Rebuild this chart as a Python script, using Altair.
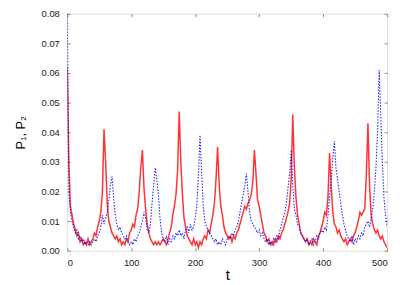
import altair as alt
import pandas as pd

# time grid (step 2.5) and series values in units of 1e-3
t_step = 2.5
p1_milli = [
    62, 30, 15, 12, 9, 7, 5, 6, 3, 4, 2, 3, 2, 4, 2, 3, 4, 6, 5, 8,
    10, 13, 20, 41, 30, 16, 10, 8, 6, 5, 4, 5, 3, 4, 2, 3, 2, 4, 3, 6,
    7, 9, 8, 12, 14, 20, 28, 34, 21, 14, 9, 6, 4, 3, 2, 3, 2, 3, 2, 3,
    4, 3, 2, 4, 6, 8, 12, 15, 19, 27, 47, 30, 19, 11, 8, 5, 4, 3, 2, 4,
    2, 3, 1, 3, 2, 4, 5, 4, 7, 6, 9, 12, 16, 24, 35, 22, 15, 12, 8, 6,
    5, 4, 5, 3, 5, 4, 6, 7, 9, 11, 13, 15, 14, 16, 17, 19, 23, 34, 26, 17,
    15, 12, 9, 6, 5, 3, 4, 2, 3, 2, 4, 3, 5, 4, 6, 7, 9, 11, 13, 16,
    24, 46, 28, 18, 12, 9, 6, 5, 4, 3, 4, 2, 3, 2, 4, 3, 2, 5, 6, 8,
    10, 13, 12, 18, 33, 22, 13, 9, 8, 6, 7, 5, 4, 3, 4, 2, 3, 4, 3, 5,
    6, 8, 10, 13, 12, 13, 14, 26, 43, 22, 12, 9, 7, 6, 7, 5, 4, 5, 3, 2,
    1,
]
p2_milli = [
    80, 20, 13, 10, 8, 6, 7, 4, 5, 3, 4, 2, 3, 2, 3, 2, 3, 4, 3, 5,
    6, 8, 12, 9, 11, 13, 17, 22, 25, 18, 12, 9, 7, 8, 6, 5, 4, 5, 3, 2,
    3, 2, 4, 3, 5, 6, 8, 10, 13, 11, 7, 6, 9, 16, 22, 28, 24, 19, 11, 6,
    4, 3, 5, 2, 4, 3, 5, 4, 6, 5, 7, 5, 6, 4, 7, 8, 6, 9, 7, 8,
    11, 15, 25, 39, 27, 15, 10, 8, 7, 6, 5, 4, 3, 4, 2, 3, 2, 4, 3, 2,
    4, 5, 4, 6, 5, 7, 8, 10, 13, 16, 19, 22, 26, 20, 13, 10, 9, 8, 7, 6,
    7, 5, 6, 4, 3, 4, 2, 3, 2, 4, 3, 5, 4, 7, 9, 11, 13, 16, 21, 26,
    34, 22, 14, 12, 9, 8, 6, 5, 4, 3, 4, 2, 3, 4, 2, 3, 5, 4, 6, 7,
    6, 8, 7, 12, 18, 24, 31, 37, 28, 24, 20, 16, 12, 9, 7, 5, 4, 3, 5, 2,
    4, 3, 5, 4, 6, 5, 8, 9, 10, 8, 11, 14, 20, 28, 40, 61, 46, 30, 18, 12,
    8,
]
x_ticks = [0, 100, 200, 300, 400, 500]
y_ticks = [0, 0.01, 0.02, 0.03, 0.04, 0.05, 0.06, 0.07, 0.08]

t_vals = [i * t_step for i in range(len(p1_milli))]
df1 = pd.DataFrame({"t": t_vals, "P": [v / 1000 for v in p1_milli]})
df2 = pd.DataFrame({"t": t_vals, "P": [v / 1000 for v in p2_milli]})

FONT = "Liberation Sans"
TICK = 3

xs = alt.Scale(domain=[0, 500], nice=False, zero=False)
ys = alt.Scale(domain=[0, 0.08], nice=False)

red = alt.Chart(df1).mark_line(color="#ff0000", strokeWidth=1.5, opacity=0.8, clip=True).encode(
    x=alt.X("t:Q", scale=xs, title="t",
            axis=alt.Axis(orient="bottom", values=x_ticks, format="d", domain=False,
                          offset=-TICK, tickSize=TICK, tickColor="#888",
                          labelPadding=TICK + 4, labelFont=FONT, labelFontSize=9.5,
                          labelColor="#222", titleFont=FONT, titleFontSize=15,
                          titleFontWeight="normal", titlePadding=1, titleColor="#000",
                          grid=False)),
    y=alt.Y("P:Q", scale=ys, title="P₁, P₂",
            axis=alt.Axis(orient="left", values=y_ticks, domain=False,
                          offset=-TICK, tickSize=TICK, tickColor="#888",
                          labelPadding=TICK + 5, labelFont=FONT, labelFontSize=9.5,
                          labelColor="#222", titleFont=FONT, titleFontSize=13,
                          titleFontWeight="normal", titlePadding=14, titleColor="#000",
                          grid=False)),
)

blue = alt.Chart(df2).mark_line(color="#0000ff", strokeWidth=1.1, strokeDash=[1.5, 1.5], opacity=0.85, clip=True).encode(
    x=alt.X("t:Q", scale=xs,
            axis=alt.Axis(orient="top", values=x_ticks, domain=False, labels=False, title=None,
                          offset=-TICK, tickSize=TICK, tickColor="#888", grid=False)),
    y=alt.Y("P:Q", scale=ys,
            axis=alt.Axis(orient="right", values=y_ticks, domain=False, labels=False, title=None,
                          offset=-TICK, tickSize=TICK, tickColor="#888", grid=False)),
)

chart = alt.layer(red, blue).resolve_axis(x="independent", y="independent").properties(
    width=324, height=240,
    autosize=alt.AutoSizeParams(type="none"),
    padding={"left": 60, "top": 4, "right": 12, "bottom": 36},
).configure_view(stroke="#000", strokeWidth=1).configure(background="white")

chart.save("out.html", embed_options={"renderer": "svg", "actions": False})
